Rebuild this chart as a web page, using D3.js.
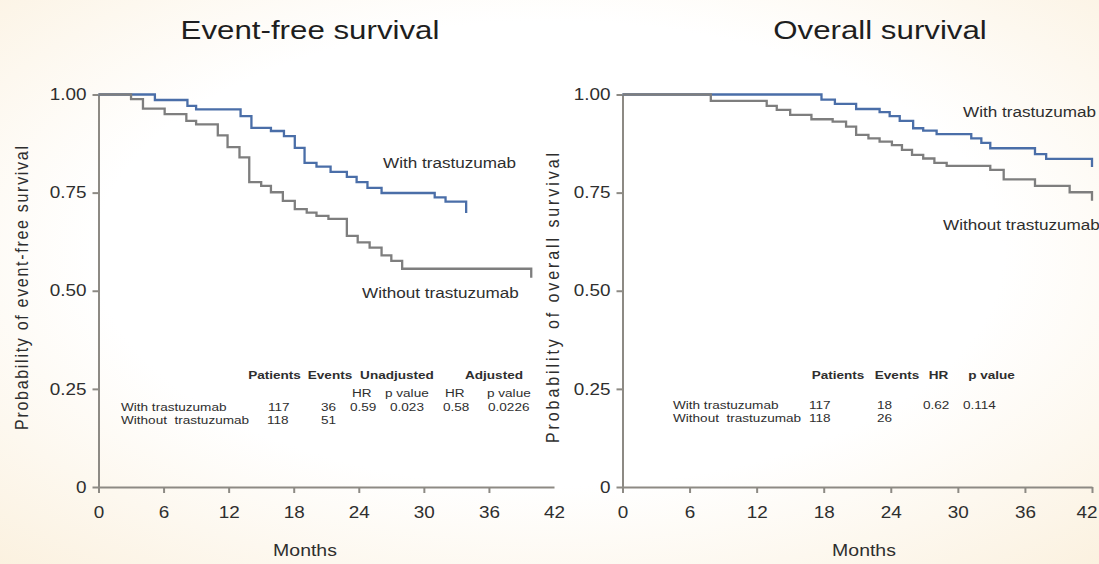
<!DOCTYPE html>
<html>
<head>
<meta charset="utf-8">
<script src="https://cdn.jsdelivr.net/npm/d3@7"></script>
<style>
  html, body { margin: 0; padding: 0; background: #fff; }
  svg { display: block; }
  text { font-family: "Liberation Sans", Arial, sans-serif; white-space: pre; }
</style>
</head>
<body>
<svg id="chart" width="1099" height="564"></svg>
<script>
// Kaplan-Meier step data: [month, survival probability] at each drop
const efsWith = [[0,1],[5.2,0.986],[8.2,0.971],[9.0,0.962],[13.1,0.945],[14.1,0.915],[15.9,0.907],
  [17.1,0.894],[18.1,0.864],[19.0,0.826],[20.1,0.816],[21.4,0.803],[22.9,0.79],[23.8,0.777],
  [24.8,0.762],[26.1,0.749],[31.0,0.738],[32.0,0.727],[33.9,0.698]];
const efsWithout = [[0,1],[3.0,0.988],[4.1,0.964],[6.1,0.95],[8.1,0.933],[9.0,0.924],[11.0,0.896],
  [11.9,0.866],[13.0,0.84],[13.9,0.777],[15.0,0.767],[15.9,0.751],[17.0,0.729],[18.1,0.708],
  [19.2,0.699],[20.1,0.691],[21.2,0.683],[22.9,0.64],[23.9,0.623],[25.0,0.61],[26.1,0.59],
  [27.0,0.576],[28.0,0.556],[39.9,0.533]];
const osWith = [[0,1],[17.8,0.987],[19.0,0.976],[20.9,0.963],[23.0,0.955],[23.9,0.945],[24.8,0.933],
  [26.0,0.914],[26.9,0.908],[28.1,0.899],[31.2,0.888],[32.1,0.877],[32.9,0.863],[36.9,0.848],
  [37.9,0.836],[42.0,0.815]];
const osWithout = [[0,1],[7.9,0.984],[12.9,0.971],[13.8,0.961],[15.0,0.948],[16.9,0.937],[18.8,0.931],
  [20.0,0.918],[20.9,0.897],[22.0,0.888],[23.0,0.88],[24.1,0.871],[25.0,0.859],[25.9,0.846],
  [26.9,0.837],[27.9,0.826],[29.0,0.818],[32.9,0.808],[34.1,0.784],[36.9,0.767],[40.0,0.751],
  [42.0,0.729]];

// Axis ticks
const monthTicks = [0, 6, 12, 18, 24, 30, 36, 42];
const probTicks = [0, 0.25, 0.5, 0.75, 1];
const probTickLabels = ["0", "0.25", "0.50", "0.75", "1.00"];

// Summary tables
const groupNames = ["With trastuzumab", "Without  trastuzumab"];
const efsHeader = ["Patients", "Events", "Unadjusted", "Adjusted"];
const efsSubHeader = ["HR", "p value", "HR", "p value"];
const efsRowWith = ["117", "36", "0.59", "0.023", "0.58", "0.0226"];
const efsRowWithout = ["118", "51"];
const osHeader = ["Patients", "Events", "HR", "p value"];
const osRowWith = ["117", "18", "0.62", "0.114"];
const osRowWithout = ["118", "26"];

const SX = 1.18;          // horizontal glyph stretch
const BLUE = "#4a6ea8", GREY = "#7e7e7e", AXIS = "#8d8a84", INK = "#2e2e2e";

const svg = d3.select("#chart");

// soft warm background
const defs = svg.append("defs");
const grad = defs.append("radialGradient").attr("id", "bg")
  .attr("cx", "50%").attr("cy", "45%").attr("r", "75%");
grad.append("stop").attr("offset", "55%").attr("stop-color", "#ffffff");
grad.append("stop").attr("offset", "100%").attr("stop-color", "#fbf1df");
svg.append("rect").attr("width", 1099).attr("height", 564).attr("fill", "url(#bg)");

function label(g, x, y, s, o = {}) {
  return g.append("text")
    .attr("transform", `translate(${x},${y}) scale(${SX},1)`)
    .attr("xml:space", "preserve")
    .attr("text-anchor", o.anchor || "start")
    .style("font-size", (o.size || 12) + "px")
    .style("font-weight", o.weight || "normal")
    .style("fill", o.fill || INK)
    .text(s);
}

const yTop = 94.5, yBottom = 487;

function panel(cfg) {
  const g = svg.append("g");
  const x = d3.scaleLinear().domain([0, 42]).range([cfg.x0, cfg.x1]);
  const y = d3.scaleLinear().domain([0, 1]).range([yBottom, yTop]);

  const gx = g.append("g").attr("transform", `translate(0,${yBottom})`)
    .call(d3.axisBottom(x).tickValues(monthTicks).tickSize(6).tickSizeOuter(0).tickPadding(14));
  const gy = g.append("g").attr("transform", `translate(${cfg.x0},0)`)
    .call(d3.axisLeft(y).tickValues(probTicks).tickFormat((d, i) => probTickLabels[i])
      .tickSize(6).tickSizeOuter(0));

  [gx, gy].forEach(a => {
    a.select(".domain").attr("stroke", AXIS).attr("stroke-width", 2);
    a.selectAll(".tick line").attr("stroke", AXIS).attr("stroke-width", 2);
    a.selectAll(".tick text").style("font-size", "16px").style("fill", INK)
      .style("font-family", "'Liberation Sans', Arial, sans-serif");
  });
  if (!cfg.lastTick) gx.selectAll(".tick line").filter(d => d === 42).remove();
  gx.selectAll(".tick text").attr("transform", `scale(${SX},1)`);
  if (cfg.lastTick) {
    // keep the final month label inside the frame
    gx.selectAll(".tick text").filter(d => d === 42)
      .attr("text-anchor", "end").attr("transform", `translate(5,0) scale(${SX},1)`);
  }
  gy.selectAll(".tick text").attr("x", 0).attr("transform", `translate(-12,0) scale(${SX},1)`);

  const line = d3.line().x(d => x(d[0])).y(d => y(d[1])).curve(d3.curveStepAfter);
  g.append("path").datum(cfg.withData).attr("d", line)
    .attr("fill", "none").attr("stroke", BLUE).attr("stroke-width", 2.3);
  g.append("path").datum(cfg.withoutData).attr("d", line)
    .attr("fill", "none").attr("stroke", GREY).attr("stroke-width", 2.3);

  label(g, cfg.titleX, 39, cfg.title, { size: 26.5, anchor: "middle", fill: "#1e1e1e" });
  label(g, cfg.monthsX, 556, "Months", { size: 16.5, anchor: "middle" });

  g.append("text")
    .attr("transform", `translate(${cfg.yLabX},${cfg.yLabY}) rotate(-90) scale(1,${SX})`)
    .attr("text-anchor", "middle")
    .attr("textLength", cfg.yLabLen).attr("lengthAdjust", "spacing")
    .style("font-size", "16px").style("fill", INK)
    .text(cfg.yLabel);

  label(g, cfg.withLab[0], cfg.withLab[1], "With trastuzumab", { size: 14.5 });
  label(g, cfg.withoutLab[0], cfg.withoutLab[1], "Without trastuzumab", { size: 14.5 });
  return g;
}

const left = panel({
  x0: 98.5, x1: 554, title: "Event-free survival", titleX: 310, monthsX: 305,
  yLabel: "Probability of event-free survival", yLabX: 28, yLabY: 288, yLabLen: 284,
  withData: efsWith, withoutData: efsWithout, withLab: [383, 168], withoutLab: [362, 298],
  lastTick: false
});
const right = panel({
  x0: 622.5, x1: 1092, title: "Overall survival", titleX: 880, monthsX: 864,
  yLabel: "Probability of overall survival", yLabX: 559, yLabY: 298, yLabLen: 290,
  withData: osWith, withoutData: osWithout, withLab: [963, 117], withoutLab: [943, 230],
  lastTick: true
});

// Event-free survival table
const tb = { size: 11.5 };
const hb = { size: 11.5, weight: "bold", anchor: "middle" };
[274.5, 330, 397, 494].forEach((cx, i) => label(left, cx, 379, efsHeader[i], hb));
[352, 385, 445, 487].forEach((cx, i) => label(left, cx, 397, efsSubHeader[i], tb));
label(left, 121, 411, groupNames[0], tb);
label(left, 121, 424, groupNames[1], tb);
[268, 321, 350, 390, 443, 488].forEach((cx, i) => label(left, cx, 411, efsRowWith[i], tb));
[267, 321].forEach((cx, i) => label(left, cx, 424, efsRowWithout[i], tb));

// Overall survival table
[838, 897, 938.5, 991.5].forEach((cx, i) => label(right, cx, 379, osHeader[i], hb));
label(right, 673, 409, groupNames[0], tb);
label(right, 673, 422, groupNames[1], tb);
[809, 877, 923, 963].forEach((cx, i) => label(right, cx, 409, osRowWith[i], tb));
[809, 877].forEach((cx, i) => label(right, cx, 422, osRowWithout[i], tb));
</script>
</body>
</html>
